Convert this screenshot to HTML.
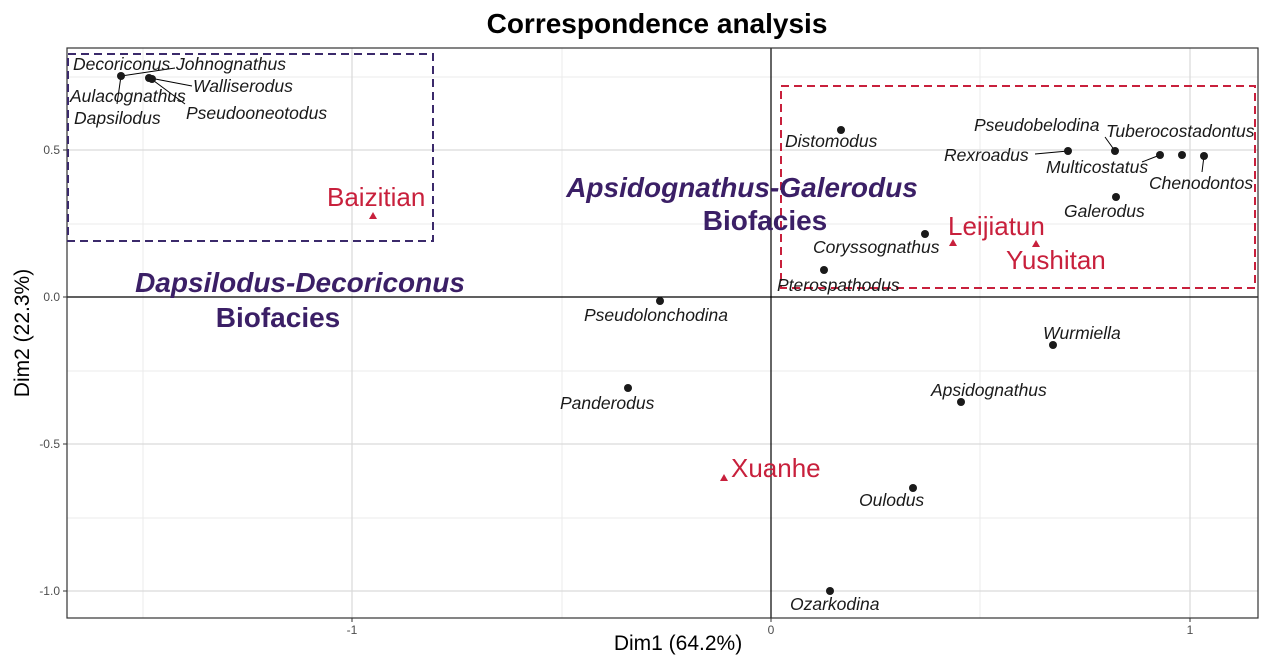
<!DOCTYPE html>
<html><head><meta charset="utf-8"><style>body{margin:0;background:#fff}svg{display:block}</style></head><body>
<svg width="1269" height="659" xmlns="http://www.w3.org/2000/svg" font-family="Liberation Sans, sans-serif">
<rect width="1269" height="659" fill="#fff"/>
<text x="657" y="33" font-size="28" font-weight="bold" text-anchor="middle">Correspondence analysis</text>
<g stroke="#ebebeb" stroke-width="1">
<line x1="143" y1="48" x2="143" y2="618"/><line x1="562" y1="48" x2="562" y2="618"/><line x1="980" y1="48" x2="980" y2="618"/>
<line x1="67" y1="77" x2="1258" y2="77"/><line x1="67" y1="224" x2="1258" y2="224"/><line x1="67" y1="371" x2="1258" y2="371"/><line x1="67" y1="518" x2="1258" y2="518"/>
</g>
<g stroke="#d9d9d9" stroke-width="1.2">
<line x1="352" y1="48" x2="352" y2="618"/><line x1="1190" y1="48" x2="1190" y2="618"/>
<line x1="67" y1="150" x2="1258" y2="150"/><line x1="67" y1="444" x2="1258" y2="444"/><line x1="67" y1="591" x2="1258" y2="591"/>
</g>
<line x1="67" y1="297" x2="1258" y2="297" stroke="#000" stroke-width="1.2"/>
<line x1="771" y1="48" x2="771" y2="618" stroke="#000" stroke-width="1.2"/>
<rect x="67" y="48" width="1191" height="570" fill="none" stroke="#333" stroke-width="1.2"/>
<rect x="68" y="54" width="365" height="187" fill="none" stroke="#3b2a6b" stroke-width="2" stroke-dasharray="8,5"/>
<rect x="781" y="86" width="474" height="202" fill="none" stroke="#c8203c" stroke-width="2" stroke-dasharray="8,5"/>
<g stroke="#333"><line x1="63" y1="150" x2="67" y2="150"/><line x1="63" y1="297" x2="67" y2="297"/><line x1="63" y1="444" x2="67" y2="444"/><line x1="63" y1="591" x2="67" y2="591"/>
<line x1="352" y1="618" x2="352" y2="622"/><line x1="771" y1="618" x2="771" y2="622"/><line x1="1190" y1="618" x2="1190" y2="622"/></g>
<g font-size="12" fill="#4d4d4d" text-anchor="end"><text x="60" y="154">0.5</text><text x="60" y="301">0.0</text><text x="60" y="448">-0.5</text><text x="60" y="595">-1.0</text></g>
<g font-size="12" fill="#4d4d4d" text-anchor="middle"><text x="352" y="634">-1</text><text x="771" y="634">0</text><text x="1190" y="634">1</text></g>
<text x="678" y="650" font-size="21" text-anchor="middle">Dim1 (64.2%)</text>
<text transform="translate(29,333) rotate(-90)" font-size="21" text-anchor="middle">Dim2 (22.3%)</text>
<g stroke="#000" stroke-width="1">
<line x1="121" y1="76" x2="175" y2="68"/><line x1="121" y1="76" x2="117" y2="104"/><line x1="150" y1="78" x2="192" y2="86"/><line x1="150" y1="78" x2="185" y2="104"/>
<line x1="1068" y1="151" x2="1035" y2="154"/><line x1="1115" y1="151" x2="1105" y2="137"/><line x1="1160" y1="155" x2="1142" y2="162"/><line x1="1204" y1="156" x2="1202" y2="172"/>
</g>
<g fill="#1a1a1a">
<circle cx="121" cy="76" r="4"/><circle cx="149" cy="78" r="4"/><circle cx="152" cy="79" r="4"/>
<circle cx="841" cy="130" r="4"/><circle cx="1068" cy="151" r="4"/><circle cx="1115" cy="151" r="4"/><circle cx="1160" cy="155" r="4"/><circle cx="1182" cy="155" r="4"/><circle cx="1204" cy="156" r="4"/>
<circle cx="1116" cy="197" r="4"/><circle cx="925" cy="234" r="4"/><circle cx="824" cy="270" r="4"/><circle cx="660" cy="301" r="4"/><circle cx="628" cy="388" r="4"/>
<circle cx="1053" cy="345" r="4"/><circle cx="961" cy="402" r="4"/><circle cx="913" cy="488" r="4"/><circle cx="830" cy="591" r="4"/>
</g>
<g fill="#c8203c"><path d="M373 212l4 7h-8z"/><path d="M953 239l4 7h-8z"/><path d="M1036 240l4 7h-8z"/><path d="M724 474l4 7h-8z"/></g>
<g font-size="17.5" font-style="italic" fill="#1a1a1a">
<text x="73" y="70">Decoriconus</text><text x="176" y="70">Johnognathus</text><text x="193" y="92">Walliserodus</text><text x="70" y="102">Aulacognathus</text>
<text x="186" y="119">Pseudooneotodus</text><text x="74" y="124">Dapsilodus</text>
<text x="785" y="147">Distomodus</text><text x="974" y="131">Pseudobelodina</text><text x="1106" y="137">Tuberocostadontus</text>
<text x="944" y="161">Rexroadus</text><text x="1046" y="173">Multicostatus</text><text x="1149" y="189">Chenodontos</text><text x="1064" y="217">Galerodus</text>
<text x="813" y="253">Coryssognathus</text><text x="777" y="291">Pterospathodus</text><text x="584" y="321">Pseudolonchodina</text>
<text x="1043" y="339">Wurmiella</text><text x="560" y="409">Panderodus</text><text x="931" y="396">Apsidognathus</text>
<text x="859" y="506">Oulodus</text><text x="790" y="610">Ozarkodina</text>
</g>
<g font-size="26" fill="#c8203c"><text x="327" y="206">Baizitian</text><text x="948" y="235">Leijiatun</text><text x="1006" y="269">Yushitan</text><text x="731" y="477">Xuanhe</text></g>
<g font-size="28" font-weight="bold" fill="#3b1f66" text-anchor="middle">
<text x="742" y="197" font-style="italic">Apsidognathus-Galerodus</text><text x="765" y="230">Biofacies</text>
<text x="300" y="292" font-style="italic">Dapsilodus-Decoriconus</text><text x="278" y="327">Biofacies</text>
</g>
</svg>
</body></html>
